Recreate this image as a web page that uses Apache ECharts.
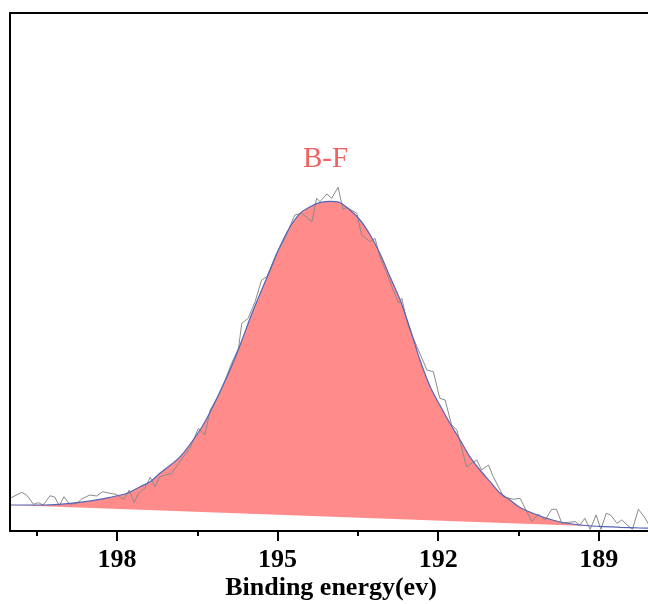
<!DOCTYPE html>
<html>
<head>
<meta charset="utf-8">
<script src="https://cdn.jsdelivr.net/npm/echarts@6/dist/echarts.min.js"></script>
<style>html,body{margin:0;padding:0;background:#fff;overflow:hidden}#c{width:648px;height:604px}</style>
</head>
<body>
<div id="c"></div>
<script>
// Binding energy (eV) tick labels and minor tick positions
var tickLabels = [198, 195, 192, 189];
var minorTicks = [199.5, 196.5, 193.5, 190.5];

// Fitted envelope (peak + background)
var envelopeE = [200.00,199.38,198.75,198.13,197.81,197.57,197.38,197.20,196.82,196.45,196.26,196.08,195.89,195.70,195.52,195.33,195.14,194.96,194.77,194.58,194.39,194.21,194.02,193.83,193.65,193.46,193.27,193.09,192.90,192.71,192.53,192.34,192.15,191.97,191.78,191.59,191.41,191.22,191.03,190.84,190.66,190.47,190.10,189.72,189.35,188.98,188.60,188.23,187.86];
var envelopeI = [26,26,28.3,33.7,37.7,44.3,49.3,57.7,74.3,101,119,139,161,186,212,237,261,284,304,317.7,324.3,328.3,329.7,328.3,321,311,296,277.7,254.3,231,203,171,144.3,126,107.7,91,74.3,61,49.3,37.7,31,23.5,15,9,6,4.6,3.7,3.0,2.5];

// Linear background
var backgroundE = [200.0, 188.0];
var backgroundI = [26, 2.5];

// Raw measured spectrum
var rawE = [200.00,199.78,199.69,199.56,199.47,199.38,199.25,199.16,199.08,198.99,198.89,198.75,198.66,198.51,198.38,198.27,198.13,198.02,197.88,197.77,197.68,197.60,197.48,197.38,197.29,197.20,196.98,196.76,196.64,196.48,196.36,196.26,196.08,195.98,195.86,195.73,195.67,195.55,195.42,195.30,195.20,195.02,194.86,194.68,194.55,194.36,194.27,194.21,194.08,193.99,193.87,193.78,193.71,193.52,193.43,193.27,193.18,193.09,192.96,192.84,192.74,192.68,192.59,192.53,192.21,192.09,191.97,191.87,191.75,191.65,191.47,191.28,191.19,191.06,190.97,190.78,190.60,190.47,190.25,190.13,190.00,189.88,189.79,189.69,189.57,189.44,189.35,189.26,189.16,189.05,188.96,188.86,188.78,188.66,188.57,188.47,188.37,188.26,188.15,188.08,188.00];
var rawI = [32.7,38.7,36,26.7,28.3,26,35.3,33.7,25.3,34.3,26.7,27.7,32,36,35,39.3,37.7,36.7,31.7,41,28.3,37.7,42.7,53.7,44.3,54.3,57.7,74.3,82.7,102.7,96,121,137.7,151,167.7,182.7,207.7,212.7,229.3,251,254.3,277.7,292.7,316,317.7,309.3,332.7,329.3,337,332.7,343.7,321.7,323.7,317.7,296,289.3,292.7,274.3,257.7,241,227.7,232.7,211,201,161,159.3,132.7,131,106,101,64.3,71,61,66,54.3,34.3,31.7,32.7,9.3,17,11,21.7,21.7,7.7,8.7,9.3,6,12.7,1.7,16,1.7,17.7,16,7.7,11,6,1.7,21.7,14.3,7.7,12];

var xMin = 188.08, xMax = 200;
var peakLabel = 'B-F';
var axisTitle = 'Binding energy(ev)';

function pairs(xs, ys) { return xs.map(function (x, i) { return [x, ys[i]]; }); }

var FONT = '"Liberation Serif", "Times New Roman", serif';
var chart = echarts.init(document.getElementById('c'), null, {renderer: 'canvas'});
chart.setOption({
  animation: false,
  backgroundColor: '#fff',
  grid: {left: 10, top: 13, right: 0, bottom: 73, show: false},
  xAxis: [{
    type: 'value', inverse: true, min: xMin, max: xMax, position: 'bottom', z: 10,
    axisLine: {show: true, onZero: false, lineStyle: {color: '#000', width: 2}},
    axisTick: {show: true, inside: false, length: 10, customValues: tickLabels, lineStyle: {color: '#000', width: 2}},
    splitLine: {show: false},
    axisLabel: {
      margin: 16, color: '#000', fontFamily: FONT, fontWeight: 'bold', fontSize: 26,
      customValues: tickLabels,
      formatter: function (v) { return String(Math.round(v)); }
    }
  }, {
    type: 'value', inverse: true, min: xMin, max: xMax, position: 'bottom', z: 9,
    axisLine: {show: false, onZero: false},
    axisTick: {show: true, inside: false, length: 5, customValues: minorTicks, lineStyle: {color: '#000', width: 2}},
    splitLine: {show: false},
    axisLabel: {show: false}
  }, {
    type: 'value', inverse: true, min: xMin, max: xMax, position: 'top', z: 10,
    axisLine: {show: true, onZero: false, lineStyle: {color: '#000', width: 2}},
    axisTick: {show: false}, splitLine: {show: false}, axisLabel: {show: false}
  }],
  yAxis: {
    type: 'value', min: 0, max: 518, z: 10,
    axisLine: {show: true, onZero: false, lineStyle: {color: '#000', width: 2}},
    axisTick: {show: false}, axisLabel: {show: false}, splitLine: {show: false}
  },
  series: [{
    name: 'peak', type: 'line', xAxisIndex: 0, data: pairs(envelopeE, envelopeI),
    smooth: 0.3, symbol: 'none', z: 2,
    lineStyle: {width: 0},
    areaStyle: {color: '#FF8B8B', opacity: 1}
  }, {
    name: 'background', type: 'line', xAxisIndex: 0, data: pairs(backgroundE, backgroundI),
    symbol: 'none', z: 3,
    lineStyle: {width: 0},
    areaStyle: {color: '#ffffff', opacity: 1}
  }, {
    name: 'raw', type: 'line', xAxisIndex: 0, data: pairs(rawE, rawI),
    symbol: 'none', z: 4,
    lineStyle: {color: '#8a8a8a', width: 1}
  }, {
    name: 'fit', type: 'line', xAxisIndex: 0, data: pairs(envelopeE, envelopeI),
    smooth: 0.3, symbol: 'none', z: 5,
    lineStyle: {color: '#5366B6', width: 1.2}
  }],
  graphic: [{
    type: 'text', x: 325.5, y: 159,
    style: {text: peakLabel, fill: '#EE6262', font: '29px ' + FONT, align: 'center', verticalAlign: 'middle'}
  }, {
    type: 'text', x: 331, y: 588,
    style: {text: axisTitle, fill: '#000', font: 'bold 26px ' + FONT, align: 'center', verticalAlign: 'middle'}
  }]
});
</script>
</body>
</html>
